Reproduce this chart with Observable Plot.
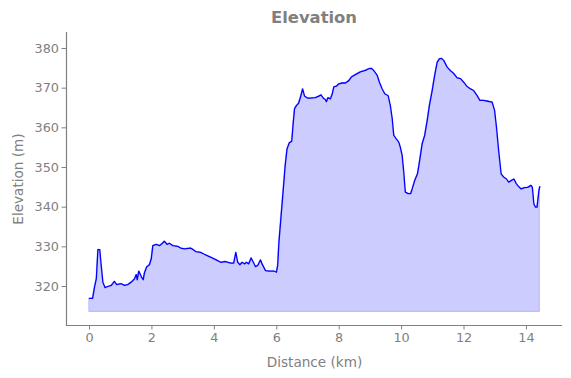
<!DOCTYPE html>
<html>
<head>
<meta charset="utf-8">
<script src="https://cdn.jsdelivr.net/npm/d3@7"></script>
<script src="https://cdn.jsdelivr.net/npm/@observablehq/plot@0.6"></script>
<style>
  html, body { margin: 0; padding: 0; background: #fff; }
  body { width: 571px; height: 378px; overflow: hidden; font-family: "DejaVu Sans", sans-serif; }
  #title { height: 26px; box-sizing: border-box; padding: 8px 9px 0 66px; text-align: center;
           font-size: 16.4px; font-weight: bold; color: #808080; line-height: 19px; }
  #chart svg { display: block; }
</style>
</head>
<body>
<div id="title">Elevation</div>
<div id="chart"></div>
<script>
const distanceKm = [
  0.00, 0.10, 0.16, 0.22, 0.27, 0.33, 0.37, 0.43, 0.50, 0.59, 0.70, 0.80, 0.87, 1.02, 1.12, 1.23,
  1.34, 1.44, 1.50, 1.53, 1.58, 1.66, 1.72, 1.76, 1.83, 1.92, 1.98, 2.03, 2.14, 2.24, 2.32, 2.40,
  2.49, 2.56, 2.67, 2.83, 2.92, 3.04, 3.24, 3.32, 3.40, 3.56, 3.66, 3.77, 3.93, 4.09, 4.20, 4.36,
  4.52, 4.62, 4.69, 4.75, 4.82, 4.89, 4.97, 5.03, 5.10, 5.18, 5.25, 5.32, 5.39, 5.48, 5.53, 5.64,
  5.74, 5.91, 5.99, 6.03, 6.07, 6.14, 6.21, 6.27, 6.33, 6.40, 6.48, 6.53, 6.57, 6.63, 6.70, 6.76,
  6.83, 6.89, 6.98, 7.08, 7.24, 7.35, 7.42, 7.49, 7.56, 7.59, 7.64, 7.72, 7.78, 7.83, 7.91, 7.99,
  8.10, 8.20, 8.31, 8.39, 8.52, 8.68, 8.84, 8.95, 9.04, 9.11, 9.22, 9.29, 9.38, 9.46, 9.57, 9.64,
  9.70, 9.75, 9.83, 9.91, 9.96, 10.02, 10.07, 10.12, 10.21, 10.29, 10.34, 10.42, 10.51, 10.57, 10.66, 10.74,
  10.82, 10.89, 10.98, 11.06, 11.14, 11.21, 11.28, 11.35, 11.46, 11.57, 11.67, 11.78, 11.89, 11.99, 12.10, 12.21,
  12.31, 12.42, 12.51, 12.63, 12.76, 12.90, 12.98, 13.04, 13.11, 13.19, 13.27, 13.36, 13.43, 13.51, 13.60, 13.67,
  13.75, 13.83, 13.94, 14.04, 14.15, 14.19, 14.24, 14.29, 14.34, 14.40, 14.43
];
const elevationM = [
  317.0, 317.0, 319.8, 322.0, 329.3, 329.3, 325.8, 321.1, 319.7, 320.0, 320.3, 321.3, 320.5, 320.7, 320.3, 320.5,
  321.1, 321.9, 323.0, 321.7, 323.9, 322.5, 321.7, 323.4, 324.9, 325.5, 327.0, 330.3, 330.6, 330.3, 330.8, 331.4,
  330.6, 330.9, 330.3, 330.1, 329.7, 329.5, 329.7, 329.3, 328.8, 328.6, 328.2, 327.8, 327.2, 326.6, 326.1, 326.3,
  325.9, 325.9, 328.6, 326.1, 325.5, 326.1, 325.7, 326.1, 325.7, 327.2, 326.1, 325.0, 325.3, 326.7, 325.7, 324.0,
  323.9, 323.9, 323.6, 325.3, 331.2, 337.9, 344.6, 350.5, 354.7, 356.2, 356.6, 361.4, 364.8, 365.6, 366.2, 367.7,
  369.8, 368.0, 367.5, 367.5, 367.6, 368.0, 368.3, 367.5, 367.1, 366.6, 367.6, 367.3, 368.6, 370.3, 370.5, 371.1,
  371.3, 371.3, 371.9, 372.8, 373.4, 374.1, 374.5, 374.9, 375.0, 374.4, 373.2, 371.5, 369.8, 368.6, 368.1, 365.6,
  362.3, 358.1, 357.2, 356.4, 355.1, 353.0, 348.8, 343.8, 343.4, 343.4, 344.6, 346.7, 348.4, 351.3, 356.0, 358.1,
  361.8, 365.6, 369.4, 373.2, 376.5, 377.4, 377.5, 377.0, 375.3, 374.4, 373.7, 372.6, 372.4, 371.5, 370.4, 369.8,
  369.4, 368.1, 366.9, 366.9, 366.7, 366.5, 364.4, 360.2, 354.3, 348.4, 347.6, 347.1, 346.3, 346.7, 347.1, 346.0,
  345.2, 344.6, 344.9, 345.0, 345.5, 345.0, 340.8, 340.0, 340.0, 344.2, 345.2
];
const xTicks = [0, 2, 4, 6, 8, 10, 12, 14];
const yTicks = [320, 330, 340, 350, 360, 370, 380];
const fillBase = 313.6;
const xDomain = [-0.737, 15.155];
const yDomain = [310.17, 384.03];

const data = distanceKm.map((d, i) => ({distance: d, elevation: elevationM[i]}));
const gray = "#808080";

const chart = Plot.plot({
  width: 571,
  height: 352,
  marginTop: 6,
  marginRight: 9,
  marginBottom: 53,
  marginLeft: 66,
  style: {fontFamily: "DejaVu Sans, sans-serif", color: gray, background: "#fff"},
  x: {domain: xDomain},
  y: {domain: yDomain},
  marks: [
    Plot.areaY(data, {x: "distance", y1: fillBase, y2: "elevation", fill: "#ccccff",
                      stroke: "#0000ff", strokeOpacity: 0.2, strokeWidth: 1}),
    Plot.lineY(data, {x: "distance", y: "elevation", stroke: "#0000ff", strokeWidth: 1.3}),
    Plot.ruleX([xDomain[0]], {stroke: gray, strokeWidth: 1.2}),
    Plot.ruleY([yDomain[0]], {stroke: gray, strokeWidth: 1.2}),
    Plot.axisX({ticks: xTicks, tickSize: 4.5, tickPadding: 3, fontSize: 12.8, stroke: gray, fill: gray,
                label: null}),
    Plot.axisX({ticks: [], label: "Distance (km)", labelAnchor: "center", labelArrow: "none",
                labelOffset: 41, fontSize: 13.6, fill: gray}),
    Plot.axisY({ticks: yTicks, tickSize: 4.5, tickPadding: 3, fontSize: 12.8, stroke: gray, fill: gray,
                label: null}),
    Plot.axisY({ticks: [], label: "Elevation (m)", labelAnchor: "center", labelArrow: "none",
                labelOffset: 53, fontSize: 13.6, fill: gray})
  ]
});
document.getElementById("chart").appendChild(chart);
</script>
</body>
</html>
